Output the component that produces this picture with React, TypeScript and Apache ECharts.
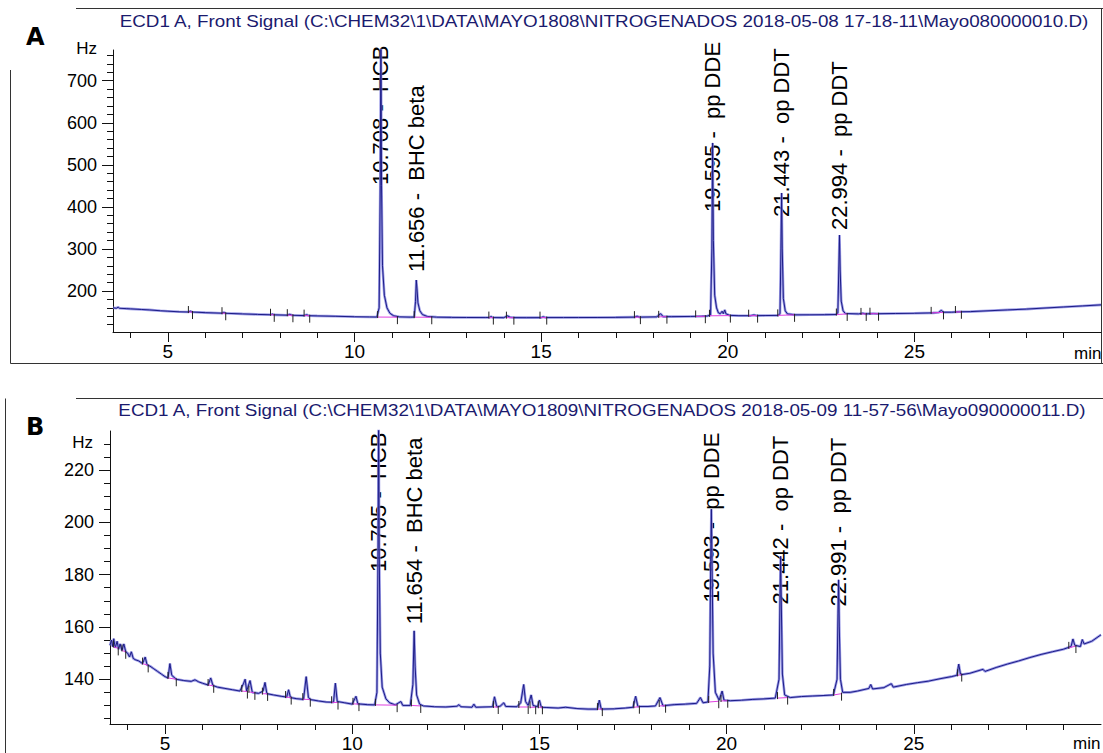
import React, { useEffect, useRef } from "react";
import * as echarts from "echarts";

// ---------- DATA ----------
const titleA =
  "ECD1 A, Front Signal (C:\\CHEM32\\1\\DATA\\MAYO1808\\NITROGENADOS 2018-05-08 17-18-11\\Mayo080000010.D)";
const titleB =
  "ECD1 A, Front Signal (C:\\CHEM32\\1\\DATA\\MAYO1809\\NITROGENADOS 2018-05-09 11-57-56\\Mayo090000011.D)";

const xMajorTicks = [5, 10, 15, 20, 25];
const xMinorTicks = [4, 5, 6, 7, 8, 9, 10, 11, 12, 13, 14, 15, 16, 17, 18, 19, 20, 21, 22, 23, 24, 25, 26, 27, 28, 29];
const yMajorTicksA = [200, 300, 400, 500, 600, 700];
const yMinorTicksA = [120, 140, 160, 180, 200, 220, 240, 260, 280, 300, 320, 340, 360, 380, 400, 420, 440, 460, 480, 500, 520, 540, 560, 580, 600, 620, 640, 660, 680, 700, 720, 740, 760];
const yMajorTicksB = [140, 160, 180, 200, 220];
const yMinorTicksB = [125, 130, 135, 140, 145, 150, 155, 160, 165, 170, 175, 180, 185, 190, 195, 200, 205, 210, 215, 220, 225, 230, 235];

const peakNames = ["HCB", "BHC beta", "pp DDE", "op DDT", "pp DDT"];
const peakRtA = [10.708, 11.656, 19.595, 21.443, 22.994];
const labelAnchorA = [452, 245, 388, 376, 345];
const peakRtB = [10.705, 11.654, 19.593, 21.442, 22.991];
const labelAnchorB = [181, 161, 169.3, 168.6, 167.8];

// Chromatogram A (time min, signal Hz)
const signalA: number[][] = [
  [3.53, 160], [3.62, 159], [3.67, 161.5], [3.7, 159], [3.9, 158], [4.0, 157.5], [4.3, 156], [4.5, 155], [4.8, 153], [5.0, 152],
  [5.3, 150.5], [5.55, 150], [5.6, 152], [5.65, 150], [6.0, 148.5], [6.45, 147.2], [6.5, 149], [6.55, 147], [7.0, 145.5], [7.4, 144.3],
  [7.75, 143.5], [7.8, 145], [7.85, 143.3], [8.2, 142.5], [8.27, 144.5], [8.33, 142.3], [8.65, 141.5], [8.72, 143.5], [8.78, 141.3],
  [9.0, 140.8], [9.5, 139.8], [10.0, 138.8], [10.4, 138.3], [10.6, 138], [10.66, 160], [10.69, 450], [10.708, 800], [10.725, 450],
  [10.75, 260], [10.8, 190], [10.87, 160], [10.95, 147], [11.05, 141], [11.2, 138.5], [11.5, 137.8], [11.6, 138], [11.635, 175],
  [11.656, 226], [11.675, 205], [11.7, 172], [11.75, 153], [11.82, 144], [11.95, 139.5], [12.2, 137.8], [12.6, 137.3], [13.0, 137],
  [13.5, 136.8], [13.62, 137], [13.66, 139.5], [13.7, 136.8], [14.0, 136.6], [14.1, 141], [14.17, 137.5], [14.3, 136.7], [14.6, 136.6],
  [15.0, 136.7], [15.05, 138.5], [15.12, 136.8], [15.6, 136.8], [16.0, 136.9], [16.5, 137], [17.0, 137.3], [17.5, 137.8], [17.57, 140],
  [17.63, 137.8], [18.1, 138.5], [18.2, 146], [18.27, 139], [18.5, 139], [19.0, 139.5], [19.3, 140], [19.45, 140.5], [19.54, 143],
  [19.575, 300], [19.595, 552], [19.615, 320], [19.65, 190], [19.7, 160], [19.75, 148], [19.8, 146], [19.85, 152], [19.88, 146],
  [19.92, 155], [19.95, 146], [20.05, 142], [20.3, 141.3], [20.6, 141.3], [20.7, 143], [20.78, 141.4], [21.0, 141.6], [21.35, 142],
  [21.4, 146], [21.425, 300], [21.443, 433], [21.46, 300], [21.49, 182], [21.54, 153], [21.6, 145.5], [21.8, 143.3], [22.2, 143.4],
  [22.6, 143.7], [22.9, 144], [22.95, 148], [22.975, 250], [22.994, 333], [23.012, 250], [23.04, 176], [23.09, 153], [23.15, 146.5],
  [23.5, 145.5], [23.62, 147], [23.7, 145.5], [23.9, 146.5], [24.0, 146], [24.5, 146.5], [25.0, 147], [25.5, 148], [25.65, 149],
  [25.72, 154], [25.78, 149.5], [26.0, 149.5], [26.2, 150.5], [26.5, 151], [27.0, 153], [27.5, 155], [28.0, 157], [28.5, 159.5],
  [29.0, 162], [29.5, 164.5], [30.0, 167],
];

// Chromatogram B (time min, signal Hz)
const signalB: number[][] = [
  [3.53, 153], [3.57, 155], [3.6, 152.5], [3.63, 155.5], [3.67, 152], [3.72, 154.5], [3.76, 151.5], [3.8, 153.5], [3.85, 151],
  [3.9, 153.5], [3.95, 150.5], [4.0, 150], [4.05, 148.5], [4.1, 150.5], [4.15, 148], [4.2, 147.5], [4.3, 147], [4.4, 146],
  [4.47, 148.5], [4.52, 145.5], [4.6, 145], [4.7, 144], [4.8, 143], [4.9, 142], [5.0, 141], [5.08, 140.5], [5.13, 146], [5.18, 141.5],
  [5.3, 140], [5.5, 139.5], [5.7, 139.2], [5.8, 139.8], [5.9, 139], [6.0, 138.5], [6.15, 137.8], [6.22, 140.5], [6.28, 137.6],
  [6.4, 137], [6.6, 136.5], [6.8, 136], [7.0, 135.5], [7.1, 138.5], [7.14, 140], [7.18, 135.5], [7.27, 139.5], [7.33, 135],
  [7.5, 134.6], [7.62, 135.5], [7.67, 138.8], [7.72, 134.5], [7.9, 134], [8.1, 133.5], [8.25, 133.2], [8.3, 136], [8.35, 133],
  [8.5, 132.6], [8.7, 132.3], [8.77, 141], [8.83, 133], [8.9, 132.2], [9.1, 131.7], [9.3, 131.3], [9.5, 131.2], [9.55, 138.5],
  [9.6, 131.5], [9.8, 131], [10.0, 130.5], [10.1, 133.5], [10.15, 130.6], [10.4, 130.3], [10.6, 130.2], [10.66, 135], [10.69, 190],
  [10.705, 245], [10.72, 190], [10.75, 150], [10.8, 137], [10.9, 132.5], [11.0, 131], [11.15, 130.2], [11.3, 131.5], [11.35, 130],
  [11.55, 130], [11.62, 138], [11.654, 158.5], [11.68, 145], [11.72, 134], [11.8, 130.5], [11.9, 129.8], [12.2, 129.5], [12.5, 129.4],
  [12.8, 129.7], [12.85, 130.3], [12.9, 129.5], [13.2, 129.3], [13.25, 130.5], [13.3, 129.3], [13.75, 129.5], [13.8, 133.3],
  [13.86, 129.5], [13.95, 129.7], [14.05, 131], [14.1, 129.6], [14.4, 129.5], [14.5, 131], [14.58, 138], [14.63, 131.5], [14.7, 130],
  [14.78, 134], [14.83, 130], [14.95, 129.5], [15.0, 132], [15.05, 129.3], [15.2, 129.2], [15.5, 129], [15.7, 129.3], [16.0, 128.8],
  [16.3, 128.6], [16.55, 128.6], [16.6, 132], [16.65, 128.6], [17.0, 128.7], [17.3, 129], [17.5, 129.3], [17.57, 133.5], [17.63, 129.6],
  [17.9, 129.6], [18.1, 129.8], [18.22, 133], [18.3, 129.9], [18.6, 130.3], [18.9, 130.5], [19.2, 130.8], [19.3, 133], [19.37, 131],
  [19.5, 131.3], [19.55, 145], [19.575, 185], [19.593, 205], [19.61, 185], [19.64, 150], [19.7, 135], [19.8, 132], [19.88, 135.5],
  [19.93, 132], [20.1, 131.8], [20.4, 132], [20.7, 132.3], [21.0, 132.5], [21.3, 132.8], [21.4, 140], [21.425, 170], [21.442, 187],
  [21.46, 170], [21.49, 142], [21.55, 134], [21.7, 133], [22.0, 133.4], [22.3, 133.6], [22.6, 133.8], [22.85, 134], [22.95, 140],
  [22.975, 165], [22.991, 178], [23.01, 160], [23.04, 140], [23.1, 135], [23.3, 135], [23.5, 135.5], [23.8, 136.5], [23.85, 138],
  [23.9, 136.3], [24.2, 136.8], [24.4, 138.3], [24.45, 137], [24.8, 138], [25.1, 138.7], [25.4, 139.3], [25.7, 140.2], [26.0, 141],
  [26.15, 141.5], [26.2, 145.8], [26.25, 141.7], [26.5, 142.3], [26.85, 143.8], [26.9, 143], [27.2, 144.5], [27.5, 145.8],
  [27.8, 147], [28.1, 148.3], [28.4, 149.5], [28.7, 150.5], [29.0, 151.5], [29.2, 152.5], [29.25, 155.4], [29.3, 153], [29.45, 152.5],
  [29.5, 155.2], [29.55, 153.5], [29.75, 154.5], [30.0, 157],
];

// Integration events: [start time, start baseline, end time, end baseline]
const integrationA: number[][] = [
  [5.55, 150, 5.66, 150], [6.45, 147.2, 6.55, 147], [7.75, 143.5, 7.85, 143.3], [8.2, 142.5, 8.35, 142.3], [8.65, 141.5, 8.8, 141.3],
  [10.62, 138, 11.15, 137.8], [11.6, 137.8, 12.07, 137.5], [13.6, 136.8, 13.72, 136.8], [14.07, 136.6, 14.27, 136.6],
  [14.97, 136.7, 15.15, 136.8], [17.5, 137.8, 17.66, 137.8], [18.15, 138.5, 18.37, 139], [19.14, 139.5, 19.4, 140],
  [19.51, 141, 20.07, 141.5], [20.56, 141.3, 20.8, 141.4], [21.34, 142, 21.79, 143.3], [22.91, 144, 23.2, 145.5],
  [23.57, 145.5, 23.71, 145.5], [23.81, 146, 24.04, 146], [25.45, 148, 25.78, 149.2], [26.1, 150, 26.26, 150.5],
];
const integrationB: number[][] = [
  [3.62, 152.5, 3.75, 151.8], [3.85, 151, 3.95, 150.5], [4.4, 146, 4.55, 145.3], [5.08, 140.5, 5.3, 140], [6.15, 137.8, 6.3, 137.5],
  [7.05, 135.5, 7.2, 135.3], [7.24, 135.2, 7.4, 134.8], [7.6, 134.5, 7.74, 134.4], [8.22, 133.2, 8.37, 133], [8.68, 132.4, 8.88, 132.2],
  [9.45, 131.2, 9.62, 131.1], [10.02, 130.6, 10.18, 130.5], [10.62, 130.2, 11.2, 130.1], [11.58, 130, 11.83, 129.8],
  [13.77, 129.4, 13.9, 129.4], [14.45, 129.4, 14.7, 129.4], [14.75, 129.3, 14.9, 129.3], [14.97, 129.3, 15.08, 129.3],
  [16.55, 128.6, 16.68, 128.6], [17.52, 129.3, 17.67, 129.5], [18.2, 129.8, 18.37, 129.9], [19.52, 131.3, 19.79, 131.6],
  [19.85, 131.7, 20.03, 131.8], [21.36, 132.8, 21.63, 133], [22.86, 134, 23.07, 134.5], [26.17, 141.5, 26.28, 141.8],
  [29.14, 152, 29.33, 152.7],
];

// ---------- LAYOUT / STYLE ----------
const W = 1103;
const H = 753;
const X_MIN = 3.53;
const X_MAX = 30;
const YA_MIN = 102.5;
const YA_MAX = 773;
const YB_MIN = 122.9;
const YB_MAX = 234.9;
const FONT = "'Liberation Sans', Arial, sans-serif";
const AXIS_COLOR = "#111";

function xAxes(grid: number) {
  const common = {
    type: "value",
    gridIndex: grid,
    min: X_MIN,
    max: X_MAX,
    position: "bottom",
    splitLine: { show: false },
  };
  return [
    {
      ...common,
      axisLine: { show: true, onZero: false, lineStyle: { color: AXIS_COLOR, width: 1 } },
      axisTick: { show: true, customValues: xMajorTicks, length: 10, lineStyle: { color: AXIS_COLOR, width: 1 } },
      axisLabel: {
        show: true, customValues: xMajorTicks, fontSize: 19, color: "#000", fontFamily: FONT, margin: 10,
        align: "center", verticalAlign: "top",
      },
    },
    {
      ...common,
      axisLine: { show: false, onZero: false },
      axisTick: { show: true, customValues: xMinorTicks, length: 6, lineStyle: { color: AXIS_COLOR, width: 1 } },
      axisLabel: { show: false },
    },
  ];
}

function yAxes(grid: number, min: number, max: number, major: number[], minor: number[]) {
  const common = { type: "value", gridIndex: grid, min, max, position: "left", splitLine: { show: false } };
  return [
    {
      ...common,
      axisLine: { show: true, onZero: false, lineStyle: { color: AXIS_COLOR, width: 1 } },
      axisTick: { show: true, customValues: major, length: 11, lineStyle: { color: AXIS_COLOR, width: 1 } },
      axisLabel: {
        show: true, customValues: major, fontSize: 18, color: "#000", fontFamily: FONT, margin: 16,
        align: "right", verticalAlign: "middle",
      },
    },
    {
      ...common,
      axisLine: { show: false, onZero: false },
      axisTick: { show: true, customValues: minor, length: 6, lineStyle: { color: AXIS_COLOR, width: 1 } },
      axisLabel: { show: false },
    },
  ];
}

function signalSeries(data: number[][], xi: number, yi: number) {
  return [
    {
      type: "line",
      xAxisIndex: xi,
      yAxisIndex: yi,
      data,
      showSymbol: false,
      clip: true,
      lineStyle: { color: "#8a8ae2", width: 2.6, opacity: 0.85 },
      silent: true,
      z: 2,
    },
    {
      type: "line",
      xAxisIndex: xi,
      yAxisIndex: yi,
      data,
      showSymbol: false,
      clip: true,
      lineStyle: { color: "#1c1c86", width: 1 },
      silent: true,
      z: 3,
    },
  ];
}

function integrationSeries(data: number[][], xi: number, yi: number) {
  return {
    type: "custom",
    xAxisIndex: xi,
    yAxisIndex: yi,
    data,
    z: 4,
    silent: true,
    encode: { x: [0, 2], y: [1, 3] },
    renderItem: (_p: any, api: any) => {
      const p1 = api.coord([api.value(0), api.value(1)]);
      const p2 = api.coord([api.value(2), api.value(3)]);
      return {
        type: "group",
        children: [
          { type: "line", shape: { x1: p1[0], y1: p1[1], x2: p2[0], y2: p2[1] }, style: { stroke: "#e040e0", lineWidth: 1 } },
          { type: "line", shape: { x1: p1[0], y1: p1[1] - 6, x2: p1[0], y2: p1[1] + 1 }, style: { stroke: "#222", lineWidth: 1 } },
          { type: "line", shape: { x1: p2[0], y1: p2[1] - 1, x2: p2[0], y2: p2[1] + 7 }, style: { stroke: "#222", lineWidth: 1 } },
        ],
      };
    },
  };
}

function frameLine(x1: number, y1: number, x2: number, y2: number) {
  return { type: "line", silent: true, shape: { x1, y1, x2, y2 }, style: { stroke: "#333", lineWidth: 1 } };
}

function txt(x: number, y: number, text: string, font: string, align: string, color = "#000", extra: any = {}) {
  return {
    type: "text",
    x,
    y,
    silent: true,
    style: { text, font, fill: color, align, verticalAlign: "middle" },
    ...extra,
  };
}

const baseGraphic = [
  frameLine(76, 8.5, W, 8.5),
  frameLine(10.5, 70, 10.5, 363.5),
  frameLine(10.5, 363.5, W, 363.5),
  frameLine(1101.5, 8.5, 1101.5, 363.5),
  frameLine(76, 398.5, W, 398.5),
  frameLine(5.5, 398.5, 5.5, H),
  txt(604, 21, titleA, `17px ${FONT}`, "center", "#1a1a6e", { scaleX: 1.107 }),
  txt(602, 410, titleB, `17px ${FONT}`, "center", "#1a1a6e", { scaleX: 1.107 }),
  txt(26, 37, "A", `bold 24px 'DejaVu Sans', sans-serif`, "left"),
  txt(26, 427, "B", `bold 24px 'DejaVu Sans', sans-serif`, "left"),
  txt(97, 48, "Hz", `17px ${FONT}`, "right"),
  txt(93, 442, "Hz", `17px ${FONT}`, "right"),
  txt(1074, 353, "min", `17px ${FONT}`, "left"),
  txt(1073, 743, "min", `17px ${FONT}`, "left"),
];

export default function App() {
  const ref = useRef<HTMLDivElement>(null);
  useEffect(() => {
    if (!ref.current) return;
    const chart = echarts.init(ref.current, undefined, { renderer: "svg", width: W, height: H });
    const option: any = {
      animation: false,
      backgroundColor: "#ffffff",
      grid: [
        { left: 113, top: 50, width: 1101 - 113, height: 332 - 50 },
        { left: 110, top: 431, width: 1101 - 110, height: 725 - 431 },
      ],
      xAxis: [...xAxes(0), ...xAxes(1)],
      yAxis: [
        ...yAxes(0, YA_MIN, YA_MAX, yMajorTicksA, yMinorTicksA),
        ...yAxes(1, YB_MIN, YB_MAX, yMajorTicksB, yMinorTicksB),
      ],
      series: [
        ...signalSeries(signalA, 0, 0),
        integrationSeries(integrationA, 0, 0),
        ...signalSeries(signalB, 2, 2),
        integrationSeries(integrationB, 2, 2),
      ],
      graphic: baseGraphic,
    };
    chart.setOption(option);

    const labels: any[] = [];
    peakRtA.forEach((rt, i) => {
      const p = chart.convertToPixel({ xAxisIndex: 0, yAxisIndex: 0 }, [rt, labelAnchorA[i]]) as number[];
      labels.push(txt(p[0], p[1], `${rt.toFixed(3)} -  ${peakNames[i]}`, `22px ${FONT}`, "left", "#000", { rotation: Math.PI / 2 }));
    });
    peakRtB.forEach((rt, i) => {
      const p = chart.convertToPixel({ xAxisIndex: 2, yAxisIndex: 2 }, [rt, labelAnchorB[i]]) as number[];
      labels.push(txt(p[0], p[1], `${rt.toFixed(3)} -  ${peakNames[i]}`, `22px ${FONT}`, "left", "#000", { rotation: Math.PI / 2 }));
    });
    chart.setOption({ graphic: [...baseGraphic, ...labels] });

    return () => chart.dispose();
  }, []);
  return (
    <div
      ref={ref}
      style={{ position: "absolute", left: 0, top: 0, width: W, height: H, background: "#fff" }}
    />
  );
}
